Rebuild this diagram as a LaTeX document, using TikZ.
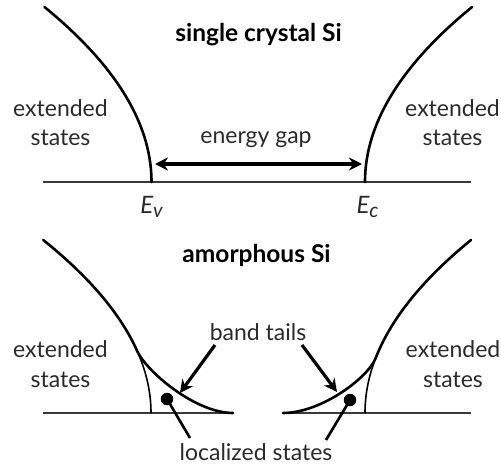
\documentclass[tikz,border=0pt]{standalone}
\usepackage{fontspec}
\setmainfont{Lato}
\usetikzlibrary{arrows.meta}
\definecolor{txt}{HTML}{2A2A2A}
\definecolor{axis}{HTML}{3A3A3A}
\tikzset{
  curve/.style={line width=2.6pt, black, line cap=round},
  edgeline/.style={line width=1.6pt, black},
  axisline/.style={line width=1.8pt, axis},
  ptr/.style={line width=3.2pt, black, -{Stealth[length=13pt,width=13pt]}},
  gaparrow/.style={line width=3.2pt, black, {Stealth[length=13pt,width=13pt]}-{Stealth[length=13pt,width=13pt]}},
  stem/.style={line width=2.6pt, black},
  dot/.style={circle, fill=black, inner sep=0pt, minimum size=12.5pt},
  lbl/.style={font=\fontsize{23}{28}\selectfont, text=txt, anchor=base, inner sep=0pt},
  ttl/.style={font=\bfseries\fontsize{24.5}{28}\selectfont, text=black, anchor=base, inner sep=0pt},
  enode/.style={font=\itshape\fontsize{24}{28}\selectfont, text=txt, anchor=base, inner sep=0pt}
}
\begin{document}
\begin{tikzpicture}[x=1pt,y=-1pt]
\useasboundingbox (0,0) rectangle (501,466);

% ---------- top panel: single crystal Si ----------
\node[ttl] (t1) at (258.5,41) {single crystal Si};
\node[lbl] (x1a) at (60.5,116.5) {extended};
\node[lbl] (x1b) at (60.5,145) {states};
\node[lbl] (x2a) at (452.5,116.5) {extended};
\node[lbl] (x2b) at (452.5,145) {states};
\node[lbl] (gap) at (256,143) {energy gap};
\node[enode] (ev) at (151.5,213) {E\raisebox{-4pt}{\fontsize{20}{20}\selectfont v}};
\node[enode] (ec) at (367.5,213) {E\raisebox{-4pt}{\fontsize{20}{20}\selectfont c}};

\coordinate (b1l) at (43,182);
\coordinate (b1r) at (471,182);
\draw[axisline] (b1l) -- (b1r);

\draw[curve] plot[domain=175:0, samples=50] ({151.5-0.0035*\x*\x},{182-\x});
\draw[curve] plot[domain=175:0, samples=50] ({365+0.0035*\x*\x},{182-\x});

\coordinate (gl) at (155,164);
\coordinate (gr) at (362,164);
\draw[gaparrow] (gl) -- (gr);

% ---------- bottom panel: amorphous Si ----------
\node[ttl] (t2) at (256.5,262) {amorphous Si};
\node[lbl] (x3a) at (60.5,357) {extended};
\node[lbl] (x3b) at (60.5,387) {states};
\node[lbl] (x4a) at (453,357) {extended};
\node[lbl] (x4b) at (453,387) {states};
\node[lbl] (bt) at (258,340) {band tails};
\node[lbl] (ls) at (256,460) {localized states};

\coordinate (b2l) at (43,413);
\coordinate (b2m) at (233,413);
\coordinate (b2n) at (283,413);
\coordinate (b2r) at (471,413);
\draw[axisline] (b2l) -- (b2m);
\draw[axisline] (b2n) -- (b2r);

% left band edge with tail
\draw[curve] plot[domain=173:62, samples=40] ({151-0.0036*\x*\x},{413-\x})
   .. controls (146.1,371) and (195,413) .. (b2m);
\draw[edgeline] plot[domain=62:0, samples=30] ({151-0.0036*\x*\x},{413-\x});
% right band edge with tail
\draw[curve] plot[domain=173:55, samples=40] ({365+0.00354*\x*\x},{413-\x})
   .. controls (367.9,378) and (321,413) .. (b2n);
\draw[edgeline] plot[domain=55:0, samples=30] ({365+0.00354*\x*\x},{413-\x});

% band tails arrows
\coordinate (a1s) at (215,345);
\coordinate (a1e) at (180,393);
\coordinate (a2s) at (302,345);
\coordinate (a2e) at (337,392);
\draw[ptr] (a1s) -- (a1e);
\draw[ptr] (a2s) -- (a2e);

% localized states
\node[dot] (d1) at (167,399) {};
\node[dot] (d2) at (350,400) {};
\coordinate (l1) at (190,438);
\coordinate (l2) at (326,440);
\draw[stem] (d1.center) -- (l1);
\draw[stem] (d2.center) -- (l2);
\end{tikzpicture}
\end{document}
